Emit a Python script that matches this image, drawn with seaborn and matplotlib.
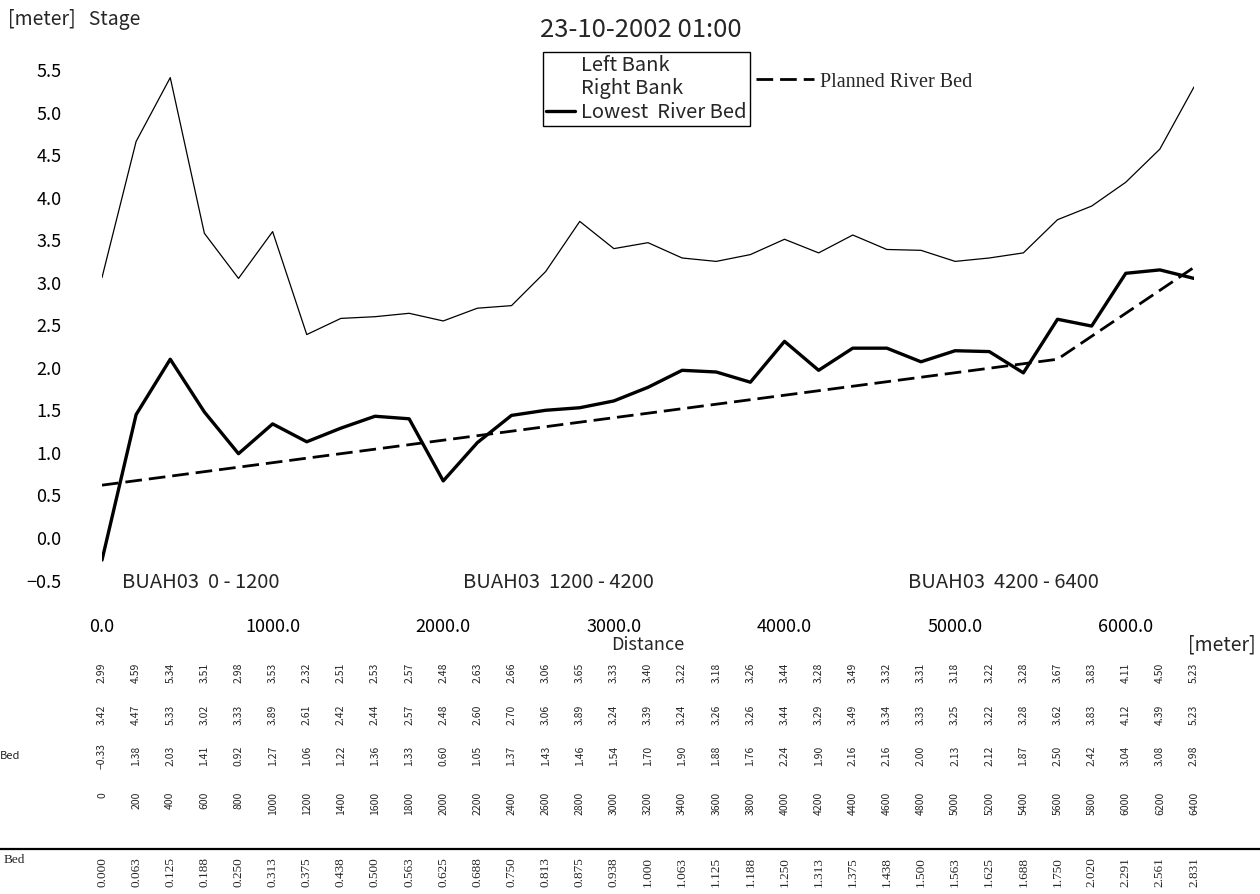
import numpy as np
import pandas as pd
import seaborn as sns
import matplotlib.pyplot as plt
from matplotlib.lines import Line2D
from matplotlib import transforms

# Longitudinal profile data
distance = [0, 200, 400, 600, 800, 1000, 1200, 1400, 1600, 1800, 2000, 2200,
            2400, 2600, 2800, 3000, 3200, 3400, 3600, 3800, 4000, 4200, 4400,
            4600, 4800, 5000, 5200, 5400, 5600, 5800, 6000, 6200, 6400]
left_bank = [2.99, 4.59, 5.34, 3.51, 2.98, 3.53, 2.32, 2.51, 2.53, 2.57, 2.48,
             2.63, 2.66, 3.06, 3.65, 3.33, 3.40, 3.22, 3.18, 3.26, 3.44, 3.28,
             3.49, 3.32, 3.31, 3.18, 3.22, 3.28, 3.67, 3.83, 4.11, 4.50, 5.23]
right_bank = [3.42, 4.47, 5.33, 3.02, 3.33, 3.89, 2.61, 2.42, 2.44, 2.57, 2.48,
              2.60, 2.70, 3.06, 3.89, 3.24, 3.39, 3.24, 3.26, 3.26, 3.44, 3.29,
              3.49, 3.34, 3.33, 3.25, 3.22, 3.28, 3.62, 3.83, 4.12, 4.39, 5.23]
lowest_bed = [-0.33, 1.38, 2.03, 1.41, 0.92, 1.27, 1.06, 1.22, 1.36, 1.33, 0.60,
              1.05, 1.37, 1.43, 1.46, 1.54, 1.70, 1.90, 1.88, 1.76, 2.24, 1.90,
              2.16, 2.16, 2.00, 2.13, 2.12, 1.87, 2.50, 2.42, 3.04, 3.08, 2.98]
planned_table = [0.000, 0.063, 0.125, 0.188, 0.250, 0.313, 0.375, 0.438, 0.500,
                 0.563, 0.625, 0.688, 0.750, 0.813, 0.875, 0.938, 1.000, 1.063,
                 1.125, 1.188, 1.250, 1.313, 1.375, 1.438, 1.500, 1.563, 1.625,
                 1.688, 1.750, 2.020, 2.291, 2.561, 2.831]

# dashed line as drawn in the plot (vertices)
planned_x = [0, 5600, 5800, 6000, 6200, 6400]
planned_y = [0.55, 2.03, 2.30, 2.57, 2.84, 3.11]

x_ticks = [0, 1000, 2000, 3000, 4000, 5000, 6000]
y_ticks = [-0.5, 0.0, 0.5, 1.0, 1.5, 2.0, 2.5, 3.0, 3.5, 4.0, 4.5, 5.0, 5.5]
sections = ["BUAH03  0 - 1200", "BUAH03  1200 - 4200", "BUAH03  4200 - 6400"]

sns.set_theme(style="white")
plt.rcParams["font.family"] = ["Noto Sans CJK JP", "DejaVu Sans"]

W, H = 1260, 894
fig = plt.figure(figsize=(12.6, 8.94), dpi=100)
ax = fig.add_axes([102 / W, (H - 574.5) / H, 1092 / W, 510.5 / H])

df = pd.DataFrame({"Distance": distance, "Left Bank": left_bank,
                   "Lowest River Bed": lowest_bed})
df_plan = pd.DataFrame({"Distance": planned_x, "Planned": planned_y})

sns.lineplot(data=df, x="Distance", y="Left Bank", color="black", lw=0.9, ax=ax)
sns.lineplot(data=df, x="Distance", y="Lowest River Bed", color="black", lw=2.4, ax=ax)
sns.lineplot(data=df_plan, x="Distance", y="Planned", color="black", lw=2.0, ax=ax)
ax.lines[-1].set_dashes([6, 2.5])

ax.set_xlim(0, 6400)
ax.set_ylim(-0.5, 5.5)
ax.set_xlabel("")
ax.set_ylabel("")
ax.set_xticks(x_ticks)
ax.set_xticklabels([f"{v:.1f}" for v in x_ticks])
ax.set_yticks(y_ticks)
ax.set_yticklabels([f"{v:.1f}".replace("-", "\u2212") for v in y_ticks])
ax.tick_params(length=0, labelsize=13, colors="black")
ax.tick_params(axis="y", pad=29)
ax.tick_params(axis="x", pad=31)
sns.despine(ax=ax, left=True, bottom=True)
# y labels sit a little below their tick position in the original
shift = transforms.ScaledTranslation(0, -6 / 100, fig.dpi_scale_trans)
for lbl in ax.get_yticklabels():
    lbl.set_transform(lbl.get_transform() + shift)

# headings
fig.text(8 / W, 1 - 20 / H, "[meter]   Stage", fontsize=14, va="center")
fig.text(641 / W, 1 - 30 / H, "23-10-2002 01:00", fontsize=18.5, ha="center", va="center")
fig.text(648 / W, 1 - 645 / H, "Distance", fontsize=13, ha="center", va="center")
fig.text(1256 / W, 1 - 645 / H, "[meter]", fontsize=14, ha="right", va="center")
for label, xl in zip(sections, [122, 463, 908]):
    fig.text(xl / W, 1 - 582 / H, label, fontsize=14.5, va="center")

# legends
handles = [Line2D([], [], color="none"), Line2D([], [], color="none"),
           Line2D([], [], color="black", lw=2.4)]
leg = fig.legend(handles, ["Left Bank", "Right Bank", "Lowest  River Bed"],
                 loc="upper left", bbox_to_anchor=(543 / W, 1 - 52 / H),
                 frameon=True, fancybox=False, edgecolor="black", framealpha=1,
                 fontsize=14.5, handlelength=1.45, handletextpad=0.3,
                 borderpad=0.15, labelspacing=0.12, borderaxespad=0)
leg.get_frame().set_linewidth(1.0)

plan_handle = Line2D([], [], color="black", lw=2.0, dashes=[6, 2.5])
fig.legend([plan_handle], ["Planned River Bed"], loc="center left",
           bbox_to_anchor=(756 / W, 1 - 82 / H), frameon=False,
           prop={"family": "Liberation Serif", "size": 14.5},
           handlelength=2.9, handletextpad=0.3, borderpad=0, borderaxespad=0)

# data table below the chart
tr = transforms.blended_transform_factory(ax.transData, fig.transFigure)
for values, yp in [(left_bank, 673), (right_bank, 715), (lowest_bed, 756)]:
    for xv, v in zip(distance, values):
        ax.text(xv, 1 - yp / H, f"{v:.2f}".replace("-", "\u2212"), transform=tr,
                rotation=90, fontsize=7.5, ha="center", va="center")
for xv in distance:
    ax.text(xv, 1 - 792 / H, f"{xv}", transform=tr, rotation=90, fontsize=7.5,
            ha="center", va="top")
for xv, v in zip(distance, planned_table):
    ax.text(xv, 1 - 872 / H, f"{v:.3f}", transform=tr, rotation=90,
            fontsize=9.5, family="Liberation Serif", ha="center", va="center")

fig.text(0, 1 - 756 / H, "Bed", fontsize=8, va="center")
fig.text(4 / W, 1 - 860 / H, "Bed", fontsize=9.5, family="Liberation Serif", va="center")
fig.add_artist(Line2D([0, 1], [1 - 849 / H, 1 - 849 / H], transform=fig.transFigure,
                      color="black", lw=1.6))

fig.savefig("out.png", dpi=100)
plt.close(fig)
